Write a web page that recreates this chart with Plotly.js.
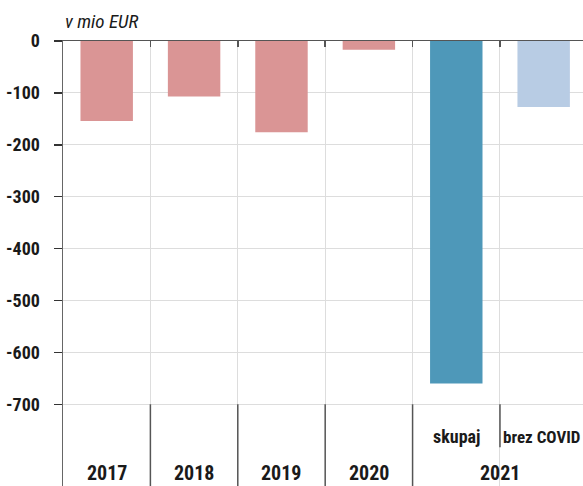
<!DOCTYPE html>
<html>
<head>
<meta charset="utf-8">
<script src="https://cdn.plot.ly/plotly-3.0.1.min.js"></script>
<style>html,body{margin:0;padding:0;background:#fff}#chart{width:583px;height:486px}</style>
</head>
<body>
<div id="chart"></div>
<script>
const categories = ["2017", "2018", "2019", "2020", "2021 skupaj", "2021 brez COVID"];
const values = [-154, -107, -176, -17, -660, -127];
const barColors = ["#DA9595", "#DA9595", "#DA9595", "#DA9595", "#4E98B9", "#B8CCE4"];
const yearLabels = ["2017", "2018", "2019", "2020", "2021"];
const yearPositions = [0, 1, 2, 3, 4.5];
const subLabels = ["skupaj", "brez COVID"];
const subPositions = [4, 5];
const yTicks = [0, -100, -200, -300, -400, -500, -600, -700];

const FONT = "Roboto Condensed, Open Sans Condensed, sans-serif";

const annotations = [];
yearLabels.forEach((t, i) => annotations.push({
  text: t, x: yearPositions[i], xref: "x", y: -832, yref: "y",
  showarrow: false, xanchor: "center", yanchor: "middle",
  font: {family: FONT, size: 20, color: "#1a1a1a", weight: "bold"}
}));
annotations.push({
  text: subLabels[0], x: subPositions[0], xref: "x", y: -763, yref: "y",
  showarrow: false, xanchor: "center", yanchor: "middle",
  font: {family: FONT, size: 18, color: "#1a1a1a", weight: "bold"}
});
annotations.push({
  text: subLabels[1], x: 4.51, xref: "x", y: -763, yref: "y",
  showarrow: false, xanchor: "left", yanchor: "middle",
  font: {family: FONT, size: 17, color: "#1a1a1a", weight: "bold"}
});
annotations.push({
  text: "v mio EUR", xref: "paper", x: 0, yref: "paper", y: 1.043,
  showarrow: false, xanchor: "left", yanchor: "middle",
  font: {family: FONT, size: 19, color: "#1a1a1a", style: "italic"}
});

const shapes = [
  {type: "rect", layer: "between", xref: "paper", x0: 0.003, x1: 1, yref: "y", y0: -702, y1: -870,
   fillcolor: "#fff", line: {width: 0}}
];
[0.5, 1.5, 2.5, 3.5].forEach(b => shapes.push({
  type: "line", xref: "x", x0: b, x1: b, yref: "y", y0: -700, y1: -870,
  line: {color: "#555", width: 1.5}
}));
shapes.push({type: "line", xref: "x", x0: 4.5, x1: 4.5, yref: "y", y0: -700, y1: -783,
  line: {color: "#555", width: 1.5}});

Plotly.newPlot("chart", [{
  type: "bar", x: categories, y: values,
  marker: {color: barColors, line: {width: 0}},
  hoverinfo: "none"
}], {
  width: 583, height: 486,
  margin: {l: 63, r: 0, t: 41, b: 0},
  paper_bgcolor: "#fff", plot_bgcolor: "#fff",
  bargap: 0.4,
  showlegend: false,
  xaxis: {
    type: "category", side: "top", range: [-0.5, 5.45], autorange: false,
    showticklabels: false, tickson: "boundaries", ticks: "inside", ticklen: 6,
    tickcolor: "#555", tickwidth: 1.5,
    showline: true, linecolor: "#555", linewidth: 1.5,
    showgrid: true, gridcolor: "#ddd", gridwidth: 1, zeroline: false
  },
  yaxis: {
    range: [-857.5, 0], autorange: false,
    tickvals: yTicks, ticktext: yTicks.map(String),
    ticks: "outside", ticklen: 8, tickcolor: "#333", tickwidth: 1.5,
    ticklabelstandoff: 10,
    showline: true, linecolor: "#666", linewidth: 1.5,
    showgrid: true, gridcolor: "#ddd", gridwidth: 1,
    zeroline: false,
    tickfont: {family: FONT, size: 18, color: "#1a1a1a", weight: "bold"}
  },
  annotations: annotations,
  shapes: shapes
}, {displayModeBar: false, staticPlot: true});
</script>
</body>
</html>
